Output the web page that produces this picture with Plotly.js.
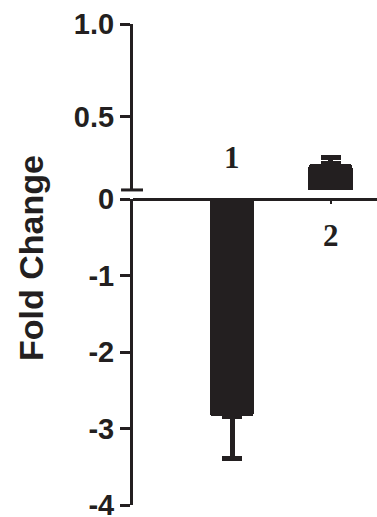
<!DOCTYPE html>
<html>
<head>
<meta charset="utf-8">
<script src="https://cdn.plot.ly/plotly-3.0.1.min.js"></script>
<style>html,body{margin:0;padding:0;background:#fff;}#chart{width:377px;height:517px;}</style>
</head>
<body>
<div id="chart"></div>
<script>
// ---- data ----
var categories = ['1', '2'];
var barValues = [-2.84, 0.245];
var errMinus = [0.55, 0];
var errPlus = [0, 0.036];
var lowerTickVals = [-4, -3, -2, -1, 0];
var lowerTickText = ['-4', '-3', '-2', '-1', '0'];
var upperTickVals = [0.5, 1.0];
var upperTickText = ['0.5', '1.0'];
var yTitle = 'Fold Change';
// label anchor values (category index, axis value)
var labelIndex = [0, 1];
var labelValue = [0.276, -0.48];

var ink = '#231f20';
var sans = 'Liberation Sans, Arial, Helvetica, sans-serif';
var serif = 'Liberation Serif, Times New Roman, serif';

var traces = [
  {
    type: 'bar', x: [categories[0]], y: [barValues[0]], xaxis: 'x', yaxis: 'y',
    width: 0.447, marker: {color: ink, cornerradius: 4, line: {width: 0}},
    error_y: {type: 'data', symmetric: false, array: [errPlus[0]], arrayminus: [errMinus[0]],
              color: ink, thickness: 5, width: 10},
    hoverinfo: 'none', showlegend: false
  },
  {
    type: 'bar', x: [categories[1]], y: [barValues[1]], xaxis: 'x', yaxis: 'y2',
    width: 0.447, marker: {color: ink, cornerradius: 4, line: {width: 0}},
    error_y: {type: 'data', symmetric: false, array: [errPlus[1]], arrayminus: [errMinus[1]],
              color: ink, thickness: 5, width: 10},
    hoverinfo: 'none', showlegend: false
  }
];

var axisCommon = {
  showline: true, linewidth: 3, linecolor: ink,
  ticks: 'outside', ticklen: 10, tickwidth: 3, tickcolor: ink,
  showgrid: false, zeroline: false, fixedrange: true,
  tickfont: {family: sans, size: 29, color: ink, weight: 'bold'},
  tickmode: 'array', ticklabeloverflow: 'allow'
};

var layout = {
  width: 377, height: 517,
  margin: {l: 133, r: 0, t: 24, b: 12, pad: 0},
  paper_bgcolor: '#ffffff', plot_bgcolor: 'rgba(0,0,0,0)',
  bargap: 0,
  xaxis: {
    type: 'category', categoryorder: 'array', categoryarray: categories,
    range: [-1.005, 1.472], anchor: 'free', position: 0.636,
    showline: true, linewidth: 3, linecolor: ink,
    ticks: 'outside', ticklen: 3, tickwidth: 2, tickcolor: ink,
    showticklabels: false, showgrid: false, zeroline: false, fixedrange: true
  },
  yaxis: Object.assign({}, axisCommon, {
    domain: [0, 0.636], range: [-4, 0], anchor: 'x',
    tickvals: lowerTickVals, ticktext: lowerTickText
  }),
  yaxis2: Object.assign({}, axisCommon, {
    domain: [0.655, 1], range: [0.103, 1.0], anchor: 'x',
    tickvals: upperTickVals, ticktext: upperTickText
  }),
  shapes: [
    {type: 'line', xref: 'paper', yref: 'y2 domain', x0: -0.049, x1: 0.041, y0: 0, y1: 0,
     line: {color: ink, width: 3}}
  ],
  annotations: [
    {text: yTitle, textangle: -90, xref: 'paper', yref: 'paper', x: -0.415, y: 0.513,
     xanchor: 'center', yanchor: 'middle', showarrow: false,
     font: {family: sans, size: 34, color: ink, weight: 'bold'}},
    {text: categories[0], xref: 'x', yref: 'y2', x: labelIndex[0], y: labelValue[0],
     xanchor: 'center', yanchor: 'middle', showarrow: false,
     font: {family: serif, size: 31, color: ink, weight: 'bold'}},
    {text: categories[1], xref: 'x', yref: 'y', x: labelIndex[1], y: labelValue[1],
     xanchor: 'center', yanchor: 'middle', showarrow: false,
     font: {family: serif, size: 31, color: ink, weight: 'bold'}}
  ]
};

Plotly.newPlot('chart', traces, layout, {displayModeBar: false, staticPlot: true});
</script>
</body>
</html>
